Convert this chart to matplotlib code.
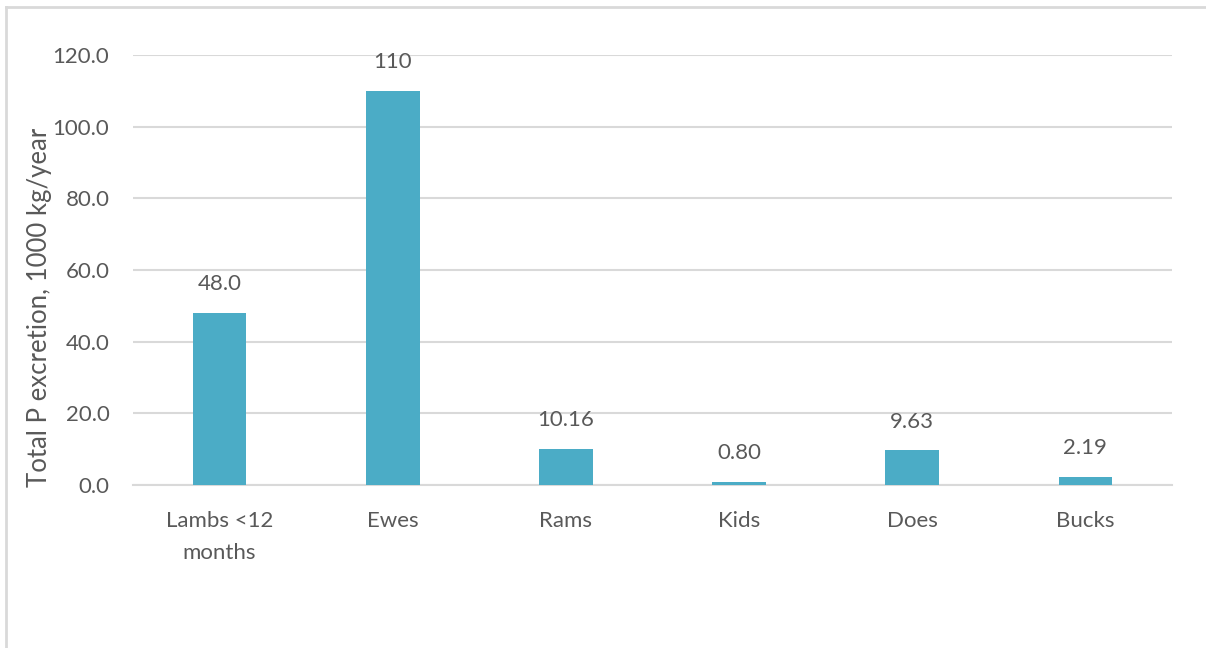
import matplotlib
matplotlib.use("Agg")
import matplotlib.pyplot as plt
from matplotlib.lines import Line2D

categories = ["Lambs <12\nmonths", "Ewes", "Rams", "Kids", "Does", "Bucks"]
values = [48.0, 110.0, 10.16, 0.80, 9.63, 2.19]
value_labels = ["48.0", "110", "10.16", "0.80", "9.63", "2.19"]
yticks = [0, 20, 40, 60, 80, 100, 120]

plt.rcParams['font.family'] = ['Lato', 'DejaVu Sans']
text_color = "#595959"
grid_color = "#D9D9D9"
bar_color = "#4BACC6"

W, H = 1206, 648
fig = plt.figure(figsize=(W / 100, H / 100), dpi=100)
ax = fig.add_axes([133 / W, 1 - 485 / H, (1172 - 133) / W, (485 - 55) / H])

x = list(range(len(categories)))
bars = ax.bar(x, values, width=0.31, color=bar_color, zorder=3)
ax.set_xlim(-0.5, len(categories) - 0.5)
ax.set_ylim(0, 120)
ax.set_yticks(yticks)
ax.set_yticklabels([f"{v:.1f}" for v in yticks])
ax.set_xticks(x)
ax.set_xticklabels(categories, linespacing=1.75)
ax.tick_params(axis='both', length=0, labelsize=16, colors=text_color)
ax.tick_params(axis='y', pad=17)
ax.tick_params(axis='x', pad=19)
for s in ["top", "right", "left"]:
    ax.spines[s].set_visible(False)
ax.spines["bottom"].set_color(grid_color)
ax.spines["bottom"].set_linewidth(1.5)
ax.yaxis.grid(True, color=grid_color, linewidth=1.5, zorder=0)
ax.set_axisbelow(True)

for b, lab in zip(bars, value_labels):
    ax.annotate(lab, (b.get_x() + b.get_width() / 2, b.get_height()),
                xytext=(0, 13.5), textcoords="offset points", ha="center",
                va="bottom", fontsize=16, color=text_color)

fig.text(40 / W, 1 - 307 / H, "Total P excretion, 1000 kg/year", rotation=90,
         ha="center", va="center", fontsize=18.5, color=text_color)

# outer border (left and top edges visible)
fig.add_artist(Line2D([6 / W, 6 / W], [0, 1 - 7 / H], transform=fig.transFigure,
                      color=grid_color, linewidth=2))
fig.add_artist(Line2D([6 / W, 1], [1 - 7 / H, 1 - 7 / H], transform=fig.transFigure,
                      color=grid_color, linewidth=2))

fig.savefig("out.png", dpi=100, facecolor="white")
